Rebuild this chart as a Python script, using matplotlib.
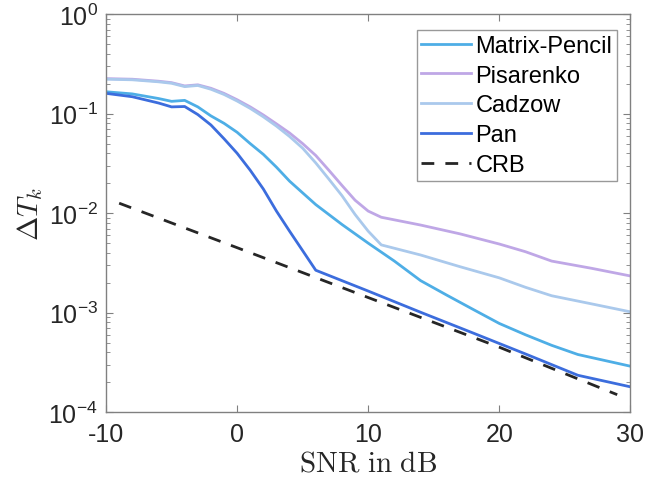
import matplotlib
matplotlib.use("Agg")
import matplotlib.pyplot as plt
from matplotlib.ticker import LogLocator, NullFormatter

plt.rcParams['font.family'] = ['Liberation Sans', 'DejaVu Sans']
plt.rcParams['mathtext.fontset'] = 'custom'
plt.rcParams['mathtext.rm'] = 'Liberation Sans'
plt.rcParams['mathtext.it'] = 'Liberation Sans:italic'
plt.rcParams['axes.unicode_minus'] = False

# SNR grid (dB) and errors
snr_mp = [-10, -8, -6, -5, -4, -3, -2, -1, 0, 1, 2, 3, 4, 5, 6, 8, 10, 12, 14, 16, 18, 20, 22, 24, 26, 30]
err_mp = [0.166, 0.158, 0.142, 0.133, 0.136, 0.117, 0.095, 0.080, 0.065, 0.050, 0.039, 0.029, 0.021,
          0.016, 0.0122, 0.0077, 0.0050, 0.0033, 0.0021, 0.0015, 0.00108, 0.00078, 0.0006, 0.00047,
          0.00038, 0.00029]

snr_pc = [-10, -8, -6, -5, -4, -3, -2, -1, 0, 1, 2, 3, 4, 5, 6, 7, 8, 9, 10, 11, 14, 17, 20, 22, 24, 27, 30]
err_pis = [0.225, 0.222, 0.212, 0.205, 0.190, 0.195, 0.180, 0.160, 0.138, 0.117, 0.097, 0.079, 0.064,
           0.050, 0.038, 0.027, 0.019, 0.0135, 0.0105, 0.0091, 0.0076, 0.0062, 0.0049, 0.0041,
           0.0033, 0.0028, 0.00234]
err_cad = [0.222, 0.219, 0.209, 0.202, 0.187, 0.192, 0.176, 0.156, 0.134, 0.113, 0.093, 0.075, 0.059,
           0.045, 0.032, 0.022, 0.015, 0.0097, 0.0066, 0.0048, 0.0038, 0.0029, 0.00224, 0.0018,
           0.00148, 0.00123, 0.00102]

snr_pan = [-10, -8, -6, -5, -4, -3, -2, -1, 0, 1, 2, 3, 4, 5, 6, 10, 14, 18, 22, 26, 30]
err_pan = [0.160, 0.148, 0.128, 0.117, 0.118, 0.098, 0.077, 0.056, 0.040, 0.027, 0.0175, 0.0105,
           0.0066, 0.0042, 0.00267, 0.00165, 0.00101, 0.000625, 0.000385, 0.000235, 0.00018]

snr_crb = [-9, 0, 10, 20, 29]
err_crb = [0.0126, 0.0045, 0.00142, 0.00045, 0.00015]

fig = plt.figure(figsize=(6.67, 4.89), dpi=100)
ax = fig.add_axes([0.159, 0.155, 0.786, 0.814])

ax.plot(snr_mp, err_mp, color='#4EAEE6', lw=2.0, label='Matrix-Pencil')
ax.plot(snr_pc, err_pis, color='#BFA7E6', lw=2.0, label='Pisarenko')
ax.plot(snr_pc, err_cad, color='#AAC9EC', lw=2.0, label='Cadzow')
ax.plot(snr_pan, err_pan, color='#3C6DDD', lw=2.0, label='Pan')
ax.plot(snr_crb, err_crb, color='#262626', lw=2.0, ls=(0, (4.6, 4)), label='CRB')

ax.set_yscale('log')
ax.set_xlim(-10, 30)
ax.set_ylim(1e-4, 1)
ax.set_xticks([-10, 0, 10, 20, 30])
ax.yaxis.set_major_locator(LogLocator(base=10, numticks=10))
ax.yaxis.set_minor_locator(LogLocator(base=10, subs=range(2, 10), numticks=20))
ax.yaxis.set_minor_formatter(NullFormatter())

for s in ax.spines.values():
    s.set_color('#808080')
    s.set_linewidth(1.0)
ax.tick_params(which='both', direction='in', top=True, right=True, colors='#808080',
               labelcolor='#262626', labelsize=18)
ax.tick_params(which='major', length=5)
ax.tick_params(which='minor', length=3)
ax.tick_params(axis='x', pad=7)
ax.tick_params(axis='y', pad=6)

ax.set_xlabel(r'$\mathrm{SNR\ in\ dB}$', fontsize=21, math_fontfamily='cm', color='#262626',
              labelpad=2)
ax.set_ylabel(r'$\Delta T_k$', fontsize=21, math_fontfamily='cm', color='#262626', labelpad=2)

leg = ax.legend(loc='upper right', bbox_to_anchor=(0.975, 0.96), fontsize=17, frameon=True,
                fancybox=False, edgecolor='#808080', handlelength=2.1, handletextpad=0.2,
                labelspacing=0.33, borderpad=0.2, borderaxespad=0)
leg.get_frame().set_linewidth(1.0)

fig.savefig('out.png', dpi=100)
